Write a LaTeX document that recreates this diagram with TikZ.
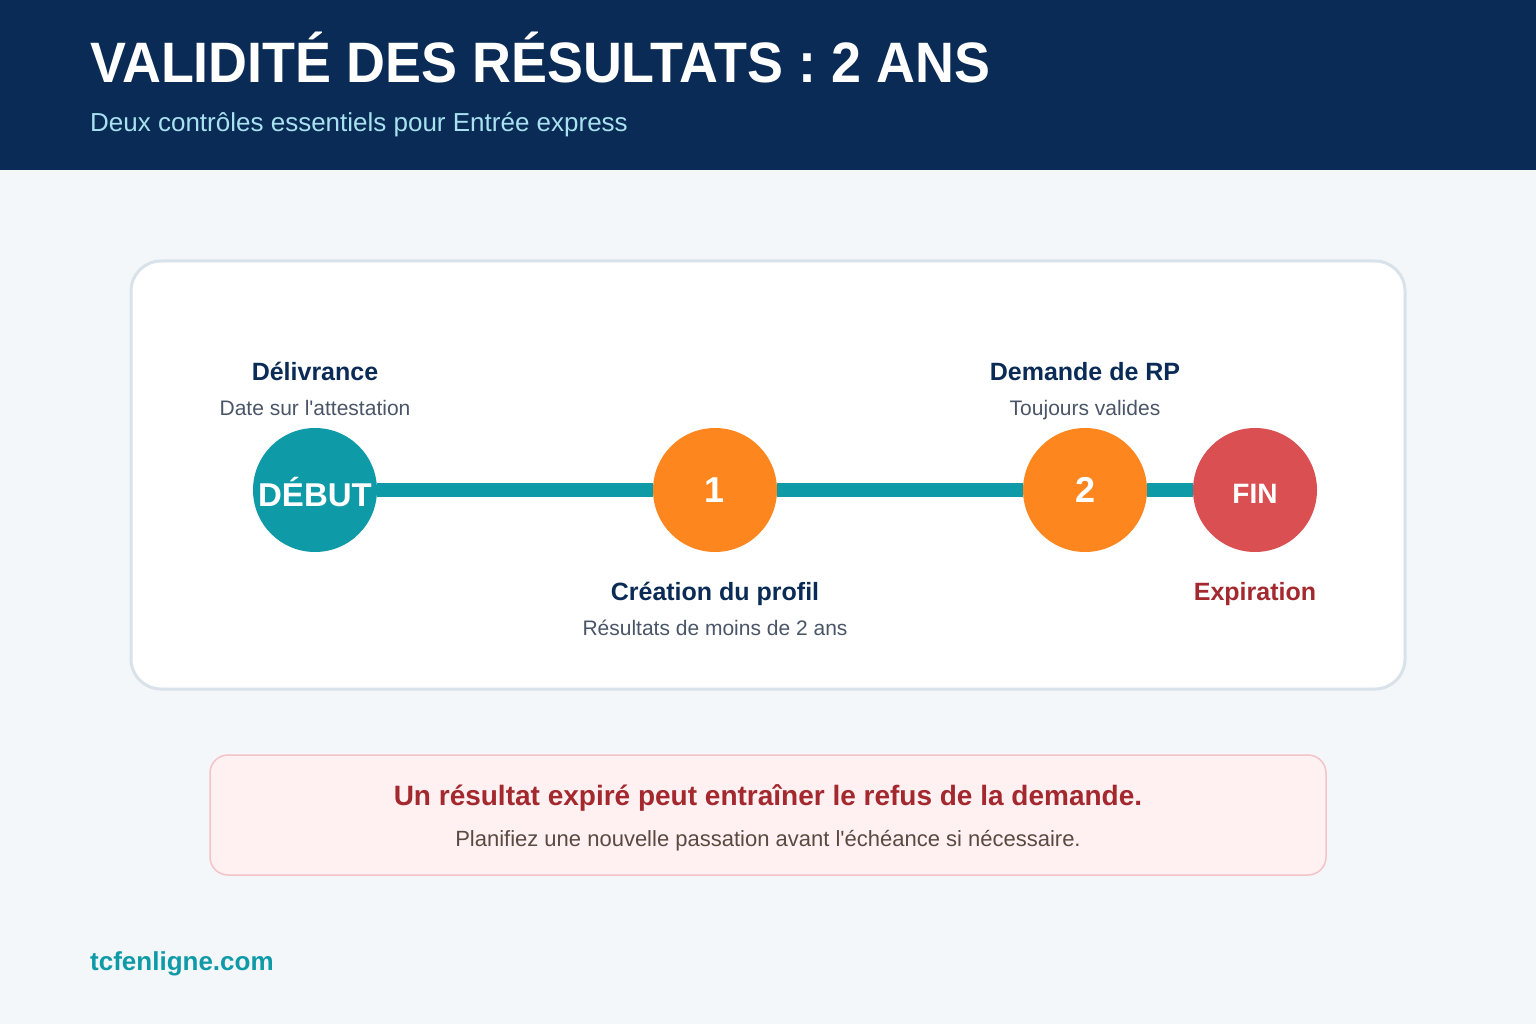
\documentclass[tikz,border=0pt]{standalone}
\usepackage{fontspec}
\setmainfont{Liberation Sans}
\newfontfamily\titlefont{Liberation Sans}[FakeStretch=0.945]
\definecolor{navy}{HTML}{0A2B55}
\definecolor{bgc}{HTML}{F4F7FA}
\definecolor{subc}{HTML}{A8E2F0}
\definecolor{cardb}{HTML}{D9E2EA}
\definecolor{teal}{HTML}{0E9AA7}
\definecolor{orng}{HTML}{FD871E}
\definecolor{redc}{HTML}{DA5052}
\definecolor{darkred}{HTML}{A3292E}
\definecolor{grayt}{HTML}{4A5568}
\definecolor{pinkf}{HTML}{FFF0F1}
\definecolor{pinkb}{HTML}{F3C3C8}
\definecolor{brownt}{HTML}{5B4A42}
\tikzset{
  dot/.style={circle, minimum size=124pt, inner sep=0pt, text=white, font=\bfseries\fontsize{36}{36}\selectfont},
  lbl/.style={anchor=base, text=navy, font=\bfseries\fontsize{25}{25}\selectfont},
  sublbl/.style={anchor=base, text=grayt, font=\fontsize{21}{21}\selectfont},
}
\begin{document}
\begin{tikzpicture}[x=1pt,y=-1pt]
\useasboundingbox (0,0) rectangle (1536,1024);
\fill[bgc] (0,0) rectangle (1536,1024);
\fill[navy] (0,0) rectangle (1536,170);
\node[anchor=base west, inner sep=0pt, text=white, font=\titlefont\bfseries\fontsize{57}{57}\selectfont] (title) at (90,83) {VALIDITÉ DES RÉSULTATS : 2 ANS};
\node[anchor=base west, inner sep=0pt, text=subc, font=\fontsize{26}{26}\selectfont] (subtitle) at (90,132) {Deux contrôles essentiels pour Entrée express};
% card
\draw[cardb, line width=3pt, fill=white, rounded corners=30pt] (131,261) rectangle (1405,689);
% timeline
\node[dot, fill=teal] (debut) at (315,490) {};
\node[dot, fill=orng] (one) at (715,490) {1};
\node[dot, fill=orng] (two) at (1085,490) {2};
\node[dot, fill=redc] (fin) at (1255,490) {};
\draw[teal, line width=14pt] (debut.east) -- (one.west);
\draw[teal, line width=14pt] (one.east) -- (two.west);
\draw[teal, line width=14pt] (two.east) -- (fin.west);
\node[text=white, font=\bfseries\fontsize{33}{33}\selectfont, inner sep=0pt] (debutt) at (315,492) {DÉBUT};
\node[text=white, font=\bfseries\fontsize{28}{28}\selectfont, inner sep=0pt] (fint) at (1255,494) {FIN};
% labels
\node[lbl] (l1) at (315,380) {Délivrance};
\node[sublbl] (s1) at (315,415) {Date sur l\textquotesingle attestation};
\node[lbl] (l3) at (1085,380) {Demande de RP};
\node[sublbl] (s3) at (1085,415) {Toujours valides};
\node[lbl] (l2) at (715,600) {Création du profil};
\node[sublbl] (s2) at (715,635) {Résultats de moins de 2 ans};
\node[lbl, text=darkred] (l4) at (1255,600) {Expiration};
% warning box
\draw[pinkb, line width=1.5pt, fill=pinkf, rounded corners=18pt] (210,755) rectangle (1326,875);
\node[anchor=base, text=darkred, font=\bfseries\fontsize{28}{28}\selectfont] (w1) at (768,805) {Un résultat expiré peut entraîner le refus de la demande.};
\node[anchor=base, text=brownt, font=\fontsize{22}{22}\selectfont] (w2) at (768,846) {Planifiez une nouvelle passation avant l\textquotesingle échéance si nécessaire.};
% footer
\node[anchor=base west, inner sep=0pt, text=teal, font=\bfseries\fontsize{26}{26}\selectfont] (foot) at (90,970) {tcfenligne.com};
\end{tikzpicture}
\end{document}
